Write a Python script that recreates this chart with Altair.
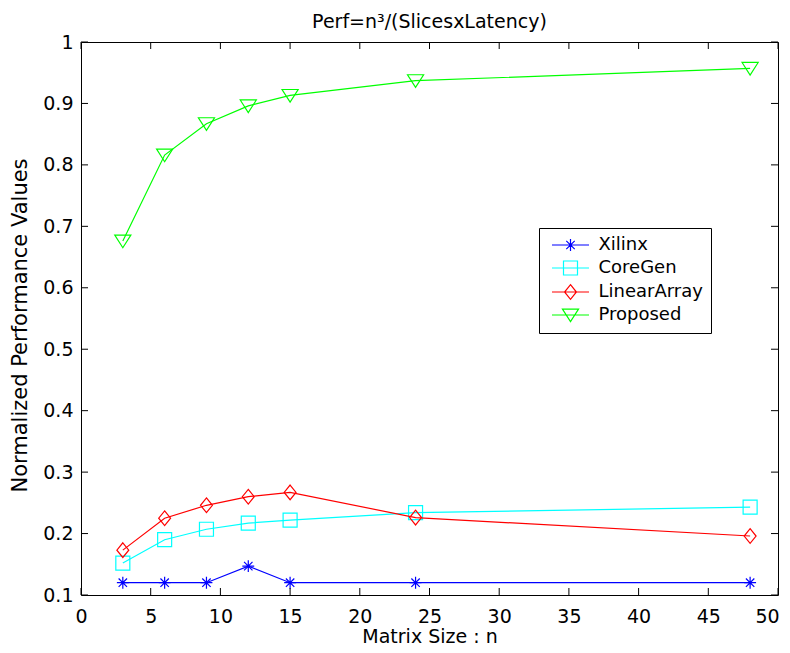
import altair as alt
import pandas as pd

# ---- data ----
n_vals = [3, 6, 9, 12, 15, 24, 48]
series_names = ["Xilinx", "CoreGen", "LinearArray", "Proposed"]
xilinx = [0.12, 0.12, 0.12, 0.147, 0.12, 0.12, 0.12]
coregen = [0.152, 0.19, 0.207, 0.217, 0.222, 0.234, 0.243]
lineararray = [0.173, 0.225, 0.246, 0.26, 0.267, 0.226, 0.196]
proposed = [0.676, 0.816, 0.867, 0.896, 0.913, 0.937, 0.957]
series_values = [xilinx, coregen, lineararray, proposed]
x_ticks = [0, 5, 10, 15, 20, 25, 30, 35, 40, 45, 50]
y_ticks = [0.1, 0.2, 0.3, 0.4, 0.5, 0.6, 0.7, 0.8, 0.9, 1.0]

colors = ["#0000FF", "#00FFFF", "#FF0000", "#00FF00"]
markers = [
    "M-0.85,0L0.85,0M0,-0.85L0,0.85M-0.6,-0.6L0.6,0.6M-0.6,0.6L0.6,-0.6",
    "M-1,-1L1,-1L1,1L-1,1Z",
    "M0,-1.05L0.85,0L0,1.05L-0.85,0Z",
    "M-1.15,-0.85L1.15,-0.85L0,0.95Z",
]
legend_line = "M-2.65,0L2.65,0"
legend_shapes = [legend_line + m for m in markers]

W, H = 697, 553
FONT = "DejaVu Sans"
FS = 19
TL = 7

rows = []
for name, vals in zip(series_names, series_values):
    for n, v in zip(n_vals, vals):
        rows.append({"series": name, "n": n, "v": v})
df = pd.DataFrame(rows)

xs = alt.Scale(domain=[0, 50], nice=False, zero=False)
ys = alt.Scale(domain=[0.1, 1.0], nice=False, zero=False)

xaxis = alt.Axis(
    values=x_ticks, ticks=False, domain=False, grid=False,
    labelFont=FONT, labelFontSize=FS, labelColor="#000",
    labelBaseline="alphabetic", labelPadding=27, labelFlush=False,
    labelOffset={"condition": {"test": "datum.value == 50", "value": -11}, "value": 0},
    title="Matrix Size : n", titleFont=FONT, titleFontSize=FS,
    titleFontWeight="normal", titleColor="#000",
    titleBaseline="alphabetic", titleY=47,
)
yaxis = alt.Axis(
    values=y_ticks, ticks=False, domain=False, grid=False,
    labelFont=FONT, labelFontSize=FS, labelColor="#000",
    labelPadding=8, labelFlush=False,
    labelExpr="datum.value == 1 ? '1' : format(datum.value, '.1f')",
    title="Normalized Performance Values", titleFont=FONT, titleFontSize=21,
    titleFontWeight="normal", titleColor="#000",
    titleBaseline="middle", titleX=-61, titleY=283, titleAngle=270,
)

X = alt.X("n:Q", scale=xs, axis=xaxis)
Y = alt.Y("v:Q", scale=ys, axis=yaxis)

base = alt.Chart(df)
layers = []
for name, c, m in zip(series_names, colors, markers):
    sub = base.transform_filter(alt.datum.series == name)
    layers.append(sub.mark_line(color=c, strokeWidth=1.2).encode(x=X, y=Y))
    layers.append(
        sub.mark_point(shape=m, size=196, filled=False, color=c,
                       strokeWidth=1.2, opacity=1).encode(x=X, y=Y)
    )

leg = alt.Legend(
    title=None, orient="none", legendX=458, legendY=186,
    labelFont=FONT, labelFontSize=18, labelColor="#000",
    fillColor="white", strokeColor="black", padding=8,
    rowPadding=4, symbolSize=196, symbolStrokeWidth=1.2,
    symbolOffset=14.5, labelOffset=19, symbolFillColor="transparent",
)
legend_layer = base.mark_point(opacity=0, filled=False).encode(
    x=X, y=Y,
    color=alt.Color("series:N", scale=alt.Scale(domain=series_names, range=colors), legend=leg),
    shape=alt.Shape("series:N", scale=alt.Scale(domain=series_names, range=legend_shapes), legend=leg),
)
layers.append(legend_layer)

xt = alt.Chart(pd.DataFrame({"n": x_ticks}))
yt = alt.Chart(pd.DataFrame({"v": y_ticks}))
layers.append(xt.mark_rule(color="black", strokeWidth=1).encode(x=X, y=alt.value(H), y2=alt.value(H - TL)))
layers.append(xt.mark_rule(color="black", strokeWidth=1).encode(x=X, y=alt.value(0), y2=alt.value(TL)))
layers.append(yt.mark_rule(color="black", strokeWidth=1).encode(y=Y, x=alt.value(0), x2=alt.value(TL)))
layers.append(yt.mark_rule(color="black", strokeWidth=1).encode(y=Y, x=alt.value(W), x2=alt.value(W - TL)))

chart = alt.layer(*layers).properties(
    width=W, height=H,
    title=alt.TitleParams("Perf=n³/(SlicesxLatency)", font=FONT, fontSize=FS,
                          fontWeight="normal", color="#000", offset=1, anchor="middle"),
    autosize=alt.AutoSizeParams(type="none"),
    padding={"left": 73, "top": 34, "right": 4, "bottom": 50},
    background="white",
).configure_view(stroke="black", strokeWidth=1)

chart.save("out.html", embed_options={"renderer": "svg", "actions": False})
